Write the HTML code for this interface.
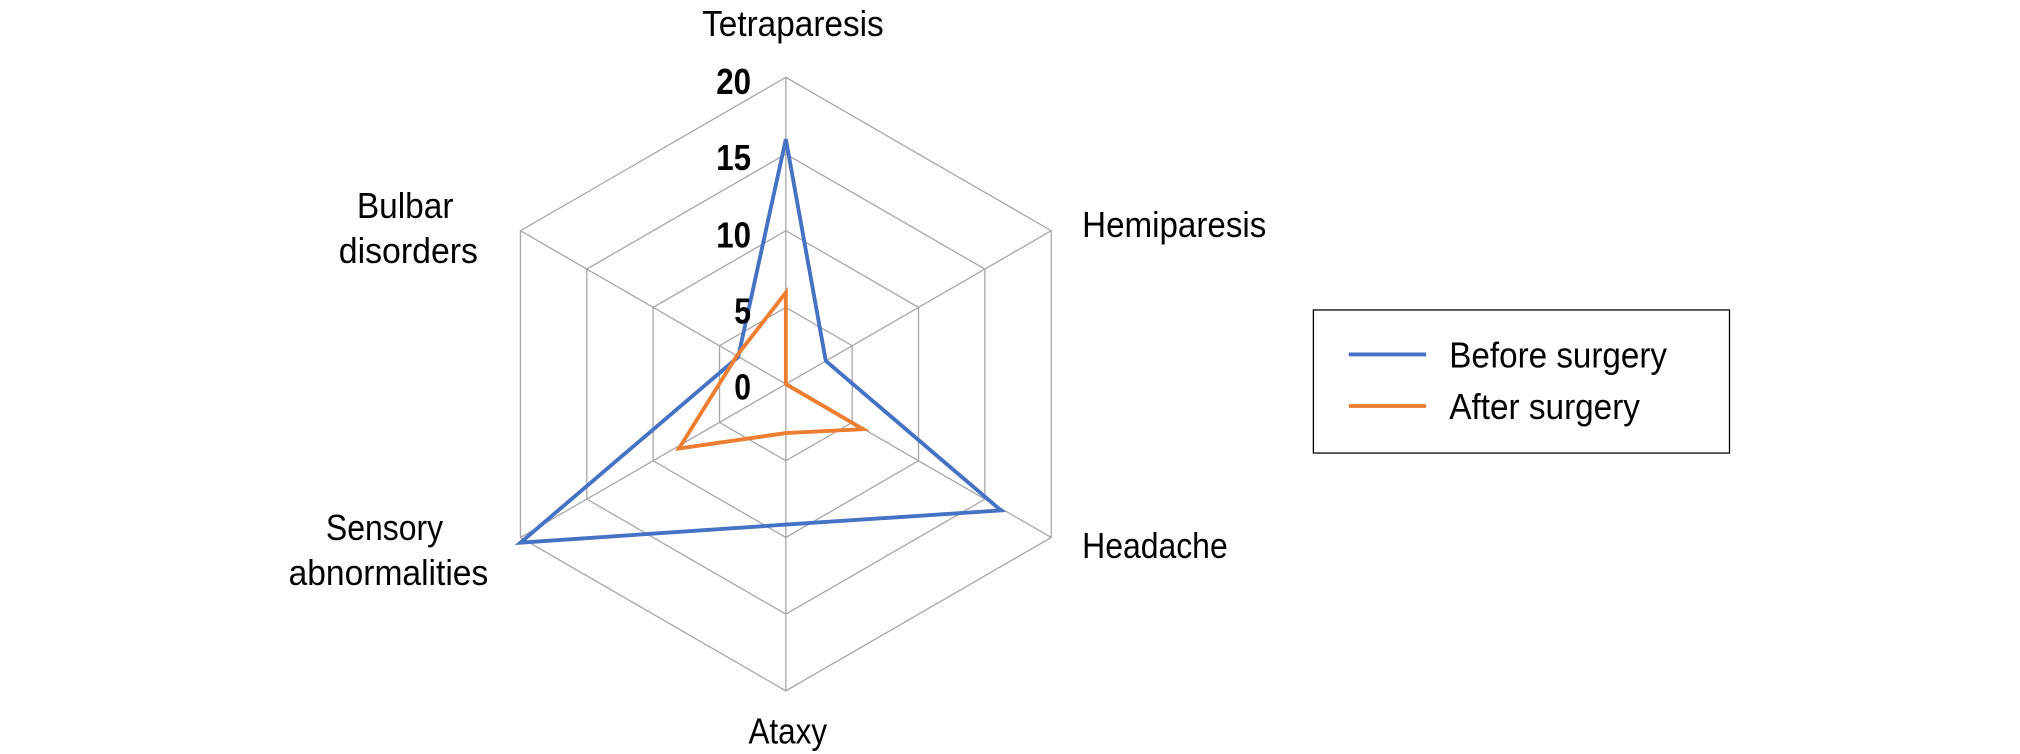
<!DOCTYPE html>
<html><head><meta charset="utf-8"><style>
html,body{margin:0;padding:0;background:#fff;}
svg{display:block;}
text{font-family:"Liberation Sans Narrow","Liberation Sans",sans-serif;fill:#000;}
</style></head><body>
<svg width="2020" height="754" viewBox="0 0 1568 585" preserveAspectRatio="none" xmlns="http://www.w3.org/2000/svg">
<rect width="1568" height="585" fill="#fff"/>
<g fill="none" stroke="#a6a6a6" stroke-width="1">
<polygon points="610,60 816,179 816,417 610,536 404,417 404,179"/>
<polygon points="610,119.5 764.5,208.75 764.5,387.25 610,476.5 455.5,387.25 455.5,208.75"/>
<polygon points="610,179 713,238.5 713,357.5 610,417 507,357.5 507,238.5"/>
<polygon points="610,238.5 661.5,268.25 661.5,327.75 610,357.5 558.5,327.75 558.5,268.25"/>
<line x1="610" y1="298" x2="610" y2="60"/>
<line x1="610" y1="298" x2="816" y2="179"/>
<line x1="610" y1="298" x2="816" y2="417"/>
<line x1="610" y1="298" x2="610" y2="536"/>
<line x1="610" y1="298" x2="404" y2="417"/>
<line x1="610" y1="298" x2="404" y2="179"/>
</g>
<polygon fill="none" stroke="#4472c4" stroke-width="3" points="610,108 641,280 777,396 610,407 404,421 573,277"/>
<polygon fill="none" stroke="#ed7d31" stroke-width="3" points="610,227 610,298 670,333 610,336 527,348 572,276"/>
<g font-size="28" lengthAdjust="spacingAndGlyphs">
<text x="545" y="28" textLength="141" lengthAdjust="spacingAndGlyphs">Tetraparesis</text>
<text x="840" y="184" textLength="143" lengthAdjust="spacingAndGlyphs">Hemiparesis</text>
<text x="840" y="433" textLength="113" lengthAdjust="spacingAndGlyphs">Headache</text>
<text x="581" y="577" textLength="61" lengthAdjust="spacingAndGlyphs">Ataxy</text>
<text x="253" y="419" textLength="91" lengthAdjust="spacingAndGlyphs">Sensory</text>
<text x="224" y="454" textLength="155" lengthAdjust="spacingAndGlyphs">abnormalities</text>
<text x="277" y="169" textLength="75" lengthAdjust="spacingAndGlyphs">Bulbar</text>
<text x="263" y="204" textLength="108" lengthAdjust="spacingAndGlyphs">disorders</text>
<text x="1125" y="285" textLength="169" lengthAdjust="spacingAndGlyphs">Before surgery</text>
<text x="1125" y="325" textLength="148" lengthAdjust="spacingAndGlyphs">After surgery</text>
</g>
<g font-size="28" font-weight="bold">
<text x="556" y="73" textLength="27" lengthAdjust="spacingAndGlyphs">20</text>
<text x="556" y="132" textLength="27" lengthAdjust="spacingAndGlyphs">15</text>
<text x="556" y="192" textLength="27" lengthAdjust="spacingAndGlyphs">10</text>
<text x="570" y="251" textLength="13" lengthAdjust="spacingAndGlyphs">5</text>
<text x="570" y="310" textLength="13" lengthAdjust="spacingAndGlyphs">0</text>
</g>
<rect x="1019.5" y="240.5" width="323" height="111" fill="none" stroke="#000" stroke-width="1"/>
<line x1="1047" y1="275" x2="1107" y2="275" stroke="#4472c4" stroke-width="3"/>
<line x1="1047" y1="315" x2="1107" y2="315" stroke="#ed7d31" stroke-width="3"/>
</svg>
</body></html>
